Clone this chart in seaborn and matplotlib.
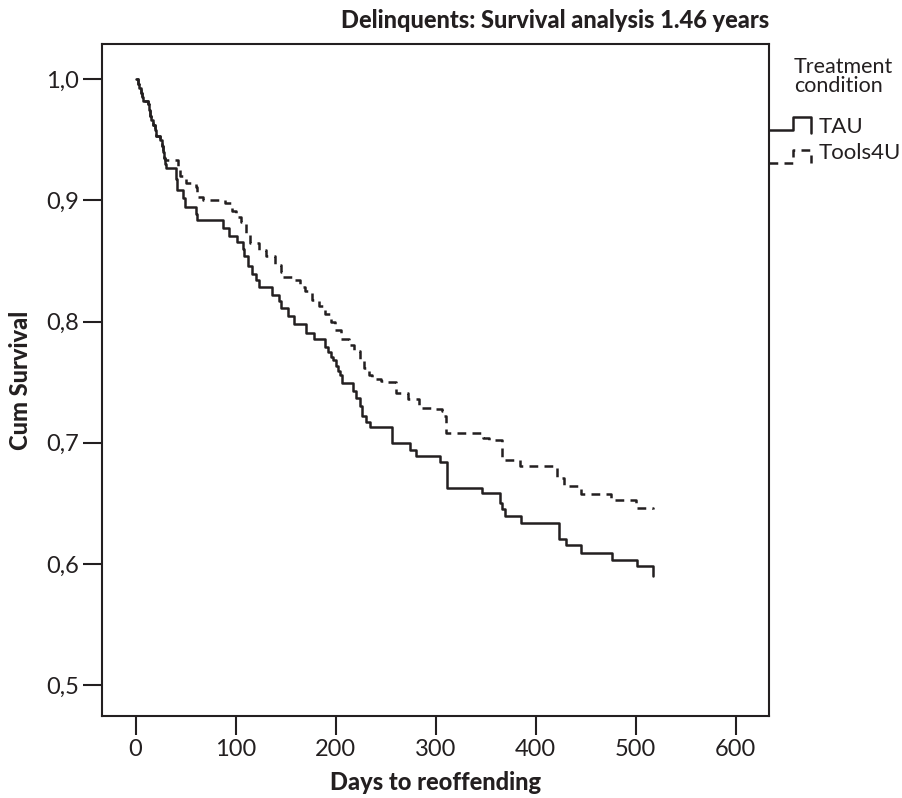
import pandas as pd
import matplotlib.pyplot as plt
import seaborn as sns
from matplotlib.ticker import FuncFormatter

# Kaplan-Meier steps (days, cumulative survival)
tau_days = [0, 2, 3, 5, 6, 7, 12, 13, 14, 15, 17, 19, 20, 24, 26, 27, 28, 29, 30,
            40, 41, 47, 49, 60, 61, 87, 93, 101, 107, 108, 112, 116, 120, 123, 136,
            143, 145, 152, 158, 170, 178, 189, 192, 195, 197, 200, 202, 204, 206,
            217, 220, 224, 226, 230, 234, 256, 274, 280, 304, 311, 346, 364, 366,
            369, 385, 423, 430, 445, 476, 501, 517]
tau_surv = [1.0, 0.996, 0.993, 0.989, 0.985, 0.982, 0.980, 0.975, 0.970, 0.966,
            0.962, 0.958, 0.953, 0.950, 0.945, 0.940, 0.935, 0.930, 0.927,
            0.918, 0.909, 0.902, 0.895, 0.889, 0.884, 0.877, 0.871, 0.866, 0.860,
            0.854, 0.846, 0.839, 0.834, 0.829, 0.822, 0.817, 0.811, 0.805, 0.798,
            0.791, 0.786, 0.779, 0.775, 0.771, 0.768, 0.763, 0.759, 0.756, 0.749,
            0.743, 0.737, 0.730, 0.722, 0.717, 0.713, 0.700, 0.694, 0.689, 0.684,
            0.663, 0.659, 0.650, 0.645, 0.640, 0.634, 0.621, 0.616, 0.609, 0.603,
            0.598, 0.590]

t4u_days = [0, 2, 3, 5, 6, 7, 12, 13, 14, 15, 17, 19, 20, 24, 26, 27, 28, 29,
            42, 44, 50, 60, 61, 67, 89, 96, 100, 105, 110, 114, 123, 130, 139,
            145, 147, 157, 164, 169, 176, 183, 189, 195, 199, 205, 213, 218, 224,
            228, 233, 236, 245, 251, 260, 272, 283, 297, 306, 308, 310, 347, 353,
            366, 384, 421, 428, 445, 475, 500, 517]
t4u_surv = [1.0, 0.996, 0.993, 0.989, 0.985, 0.982, 0.980, 0.975, 0.970, 0.966,
            0.962, 0.958, 0.953, 0.950, 0.945, 0.940, 0.935, 0.933,
            0.926, 0.920, 0.914, 0.911, 0.903, 0.900, 0.898, 0.891, 0.886, 0.882,
            0.873, 0.865, 0.859, 0.854, 0.847, 0.841, 0.837, 0.834, 0.829, 0.825,
            0.818, 0.813, 0.806, 0.800, 0.793, 0.786, 0.781, 0.776, 0.768, 0.762,
            0.756, 0.753, 0.751, 0.750, 0.741, 0.736, 0.729, 0.728, 0.726, 0.722,
            0.708, 0.704, 0.702, 0.686, 0.681, 0.671, 0.664, 0.658, 0.653, 0.646,
            0.645]

x_ticks = [0, 100, 200, 300, 400, 500, 600]
y_ticks = [0.5, 0.6, 0.7, 0.8, 0.9, 1.0]

df = pd.concat([
    pd.DataFrame({'days': tau_days, 'surv': tau_surv, 'cond': 'TAU'}),
    pd.DataFrame({'days': t4u_days, 'surv': t4u_surv, 'cond': 'Tools4U'}),
])

sns.set_style('ticks')
plt.rcParams['font.family'] = ['Lato', 'DejaVu Sans']
ink = '#231f20'

fig = plt.figure(figsize=(9.02, 7.98), dpi=100)
ax = fig.add_axes([102 / 902, 1 - 716 / 798, 667 / 902, 672 / 798])

sns.lineplot(data=df, x='days', y='surv', style='cond',
             dashes={'TAU': '', 'Tools4U': (3.5, 2.5)},
             color=ink, linewidth=1.8, drawstyle='steps-post',
             estimator=None, sort=False, legend=False, ax=ax)

ax.set_xlim(-33.6, 633.4)
ax.set_ylim(0.4746, 1.0291)
ax.set_xticks(x_ticks)
ax.set_yticks(y_ticks)
ax.yaxis.set_major_formatter(FuncFormatter(lambda v, p: f"{v:.1f}".replace('.', ',')))
ax.tick_params(direction='out', length=13.5, width=1.5, color=ink,
               labelsize=17, labelcolor=ink, pad=3)
for s in ax.spines.values():
    s.set_linewidth(1.5)
    s.set_color(ink)

ax.set_xlabel('Days to reoffending', fontsize=17, fontweight='black', color=ink, labelpad=8)
ax.set_ylabel('Cum Survival', fontsize=17, fontweight='black', color=ink, labelpad=10)
fig.text(769 / 902, 1 - 21 / 798, 'Delinquents: Survival analysis 1.46 years',
         ha='right', va='center', fontsize=17, fontweight='black', color=ink)

# legend outside the frame, SPSS style step glyphs
lx = [1.0, 1.0355, 1.0355, 1.063, 1.063]
ax.plot(lx, [0.872, 0.872, 0.892, 0.892, 0.8676], color=ink, lw=1.8,
        transform=ax.transAxes, clip_on=False)
ax.plot(lx, [0.823, 0.823, 0.842, 0.842, 0.823], color=ink, lw=1.8, ls=(0, (3.5, 2.5)),
        transform=ax.transAxes, clip_on=False)
ax.text(1.074, 0.8765, 'TAU', transform=ax.transAxes, ha='left', va='center',
        fontsize=16, color=ink)
ax.text(1.074, 0.838, 'Tools4U', transform=ax.transAxes, ha='left', va='center',
        fontsize=16, color=ink)
ax.text(1.0375, 0.952, 'Treatment\ncondition', transform=ax.transAxes, ha='left',
        va='center', fontsize=15.5, color=ink, linespacing=0.95)

fig.savefig('out.png', dpi=100)
